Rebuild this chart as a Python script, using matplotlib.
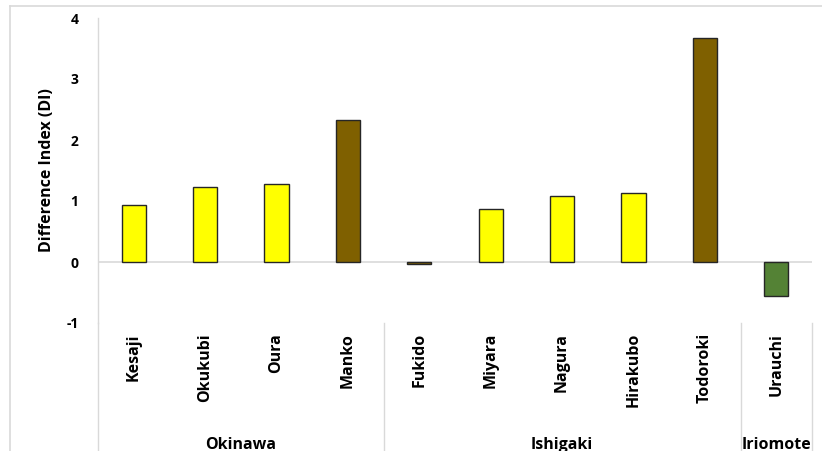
import matplotlib.pyplot as plt
from matplotlib.lines import Line2D
import matplotlib.transforms as mtransforms

sites = ['Kesaji', 'Okukubi', 'Oura', 'Manko', 'Fukido',
         'Miyara', 'Nagura', 'Hirakubo', 'Todoroki', 'Urauchi']
di_values = [0.93, 1.23, 1.28, 2.33, -0.03, 0.87, 1.08, 1.13, 3.67, -0.55]
bar_colors = ['#FFFF00', '#FFFF00', '#FFFF00', '#7F6000', '#7F6000',
              '#FFFF00', '#FFFF00', '#FFFF00', '#7F6000', '#548235']
islands = ['Okinawa', 'Ishigaki', 'Iriomote']
island_sizes = [4, 5, 1]
y_ticks = [-1, 0, 1, 2, 3, 4]

FONT = 'Open Sans'
GRID = '#D9D9D9'

fig = plt.figure(figsize=(8.22, 4.51), dpi=100)
W, H = 822, 451
ax = fig.add_axes([98 / W, (H - 323) / H, (812 - 98) / W, (323 - 18) / H])

# outer chart frame (only top and left edges are visible)
fig.add_artist(Line2D([10 / W, 1.0], [(H - 6) / H] * 2, transform=fig.transFigure,
                      color=GRID, linewidth=1.2))
fig.add_artist(Line2D([10 / W] * 2, [0, (H - 6) / H], transform=fig.transFigure,
                      color=GRID, linewidth=1.2))

x = list(range(len(sites)))
ax.bar(x, di_values, width=0.34, color=bar_colors, edgecolor='#262626',
       linewidth=1.0, zorder=3)

ax.set_xlim(-0.5, len(sites) - 0.5)
ax.set_ylim(-1, 4)
ax.set_yticks(y_ticks)
ax.set_yticklabels([str(t) for t in y_ticks], fontfamily=FONT,
                   fontweight='bold', fontsize=10)
ax.tick_params(axis='y', length=0, pad=14)
ax.set_xticks([])

for s in ['top', 'right', 'bottom']:
    ax.spines[s].set_visible(False)
ax.spines['left'].set_color(GRID)
ax.spines['left'].set_linewidth(1.0)
ax.axhline(0, color=GRID, linewidth=1.2, zorder=2)

ax.set_ylabel('Difference Index (DI)', fontfamily=FONT, fontweight='bold',
              fontsize=11.5, labelpad=8)

trans = mtransforms.blended_transform_factory(ax.transData, ax.transAxes)

# category labels
for xi, name in zip(x, sites):
    ax.text(xi, -0.033, name, transform=trans, rotation=90, ha='center',
            va='top', fontfamily=FONT, fontweight='bold', fontsize=11.5)

# group separators and island labels
bounds = [-0.5]
for n in island_sizes:
    bounds.append(bounds[-1] + n)
for b in bounds:
    ax.add_line(Line2D([b, b], [0, -0.45], transform=trans, color=GRID,
                       linewidth=1.0, clip_on=False))
for i, name in enumerate(islands):
    mid = (bounds[i] + bounds[i + 1]) / 2
    ax.text(mid, -0.375, name, transform=trans, ha='center', va='top',
            fontfamily=FONT, fontweight='bold', fontsize=11.5)

fig.savefig('out.png', dpi=100)
